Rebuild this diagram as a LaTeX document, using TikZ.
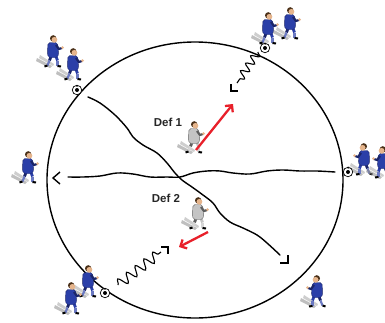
\documentclass[tikz,border=0pt]{standalone}
\usepackage{fontspec}
\setmainfont{Liberation Sans}
\usetikzlibrary{arrows.meta,decorations.pathmorphing,shapes.geometric}
\definecolor{kit}{HTML}{2B3FA8}
\definecolor{kitdark}{HTML}{1B2568}
\definecolor{skin}{HTML}{E6B58C}
\definecolor{hair}{HTML}{4A3018}
\definecolor{defc}{HTML}{C4C4C4}
\definecolor{defdark}{HTML}{5E5E5E}
\definecolor{arrowred}{HTML}{E8202A}
\tikzset{
  pics/runner/.style n args={3}{code={
    \fill[black!45, opacity=.55] (-1,16) -- (-16,8) -- (-17,11) -- (-3,18) -- cycle;
    \fill[black!35, opacity=.55] (1,14) -- (-13,5) -- (-14,8) -- (0,16) -- cycle;
    \begin{scope}[xscale=#3]
      \draw[line width=2.8pt, #2] (-1.5,5) -- (-3.5,10.5);
      \draw[line width=2.2pt, #1!70!white] (-3.5,10.5) -- (-5.5,15.5);
      \draw[line width=2pt, black] (-5.5,15.5) -- (-8.5,16.5);
      \draw[line width=2.8pt, #1] (2.5,5) -- (4.5,10.5);
      \draw[line width=2.2pt, #1!70!white] (4.5,10.5) -- (4.5,15.5);
      \draw[line width=2pt, black] (4.5,16) -- (8,16.5);
      \filldraw[fill=#1, draw=#2, line width=.4pt, rounded corners=2pt]
        (-5,-7.5) -- (4.5,-7.5) -- (5.5,2) -- (5,7.5) -- (-5,7.5) -- (-5.5,2) -- cycle;
      \draw[line width=2.2pt, #2] (3,-5) -- (6,-1) -- (9,-2);
      \fill[skin] (9.5,-2.3) circle[radius=1.5pt];
      \fill[hair] (0.2,-11.6) circle[radius=3.2pt];
      \fill[skin] (1.4,-10.2) circle[radius=2.9pt];
    \end{scope}
  }},
}
\begin{document}
\begin{tikzpicture}[x=1pt,y=-1pt,
  field/.style={line width=1.4pt},
  wave/.style={line width=1.4pt, line cap=round, line join=round},
  chev/.style={line width=1.4pt, line join=miter},
  drib/.style={line width=1.1pt, decorate, decoration={snake, amplitude=4pt, segment length=9pt, post length=1pt}},
  runarrow/.style={arrowred, line width=2.3pt, -{Straight Barb[length=5pt,width=10pt]}},
  lbl/.style={font=\bfseries\fontsize{11.5}{13}\selectfont, text=black!85, inner sep=0pt},
  ball/.style={circle, draw=black, fill=white, line width=.7pt, minimum size=9.5pt, inner sep=0pt,
    path picture={\fill[black] (path picture bounding box.center) circle[radius=2pt];
      \fill[black] (path picture bounding box.north) circle[radius=1.5pt];
      \fill[black] (path picture bounding box.south west) circle[radius=2pt];
      \fill[black] (path picture bounding box.south east) circle[radius=2pt];}}]

\useasboundingbox (0,0) rectangle (385,322);
\fill[white] (0,0) rectangle (385,322);

% field
\node[draw, field, ellipse, minimum width=296pt, minimum height=276pt, inner sep=0pt] (field) at (195,180) {};

% wavy diagonal line
\coordinate (dA) at (88,97);
\coordinate (dB) at (280,255);
\draw[wave] plot[smooth, tension=.6] coordinates {(dA) (100,103) (115,115) (127,128) (133,137) (143,145) (157,153) (167,163) (175,173) (182,180) (192,187) (203,195) (213,203) (220,213) (230,222) (243,228) (257,235) (267,243) (dB)};
\coordinate (tipSE) at (288,263);
\draw[chev] (tipSE) ++(-8,0) -- (tipSE) -- ++(0,-8);

% wavy horizontal line
\coordinate (hA) at (68,177);
\coordinate (hB) at (335,172);
\draw[wave] plot[smooth, tension=.6] coordinates {(hA) (83,177) (100,176) (117,173) (133,174) (150,177) (167,177) (180,177) (193,173) (207,171) (220,171) (233,173) (250,174) (267,171) (283,170) (300,171) (317,171) (hB)};
\coordinate (tipW) at (53,178);
\draw[chev] (tipW) ++(7,-6) -- (tipW) -- ++(7,6);

% dribbles
\coordinate (s1a) at (258,52);
\coordinate (s1b) at (237,83);
\draw[drib] (s1a) -- (s1b);
\coordinate (tipS1) at (231,91);
\draw[chev] (tipS1) ++(0,-7) -- (tipS1) -- ++(7,0);

\coordinate (s2a) at (118,285);
\coordinate (s2b) at (161,252);
\draw[drib, decoration={amplitude=5pt, segment length=11pt}] (s2a) -- (s2b);
\coordinate (tipS2) at (168,247);
\draw[chev] (tipS2) ++(-7,0) -- (tipS2) -- ++(0,7);

% attackers
\pic (tl1) at (53,50) {runner={kit}{kitdark}{1}};
\pic (tl2) at (73,63) {runner={kit}{kitdark}{1}};
\pic (tr1) at (268,27) {runner={kit}{kitdark}{1}};
\pic (tr2) at (290,22) {runner={kit}{kitdark}{1}};
\pic (lf) at (28,166) {runner={kit}{kitdark}{1}};
\pic (r1) at (364,158) {runner={kit}{kitdark}{-1}};
\pic (r2) at (383,161) {runner={kit}{kitdark}{-1}};
\pic (bl1) at (88,280) {runner={kit}{kitdark}{1}};
\pic (bl2) at (71,297) {runner={kit}{kitdark}{1}};
\pic (br) at (317,290) {runner={kit}{kitdark}{-1}};

% defenders
\pic (def1p) at (194,136) {runner={defc}{defdark}{1}};
\pic (def2p) at (198,212) {runner={defc}{defdark}{1}};
\node[lbl] (def1) at (168,122) {Def 1};
\node[lbl] (def2) at (166,198) {Def 2};

% defender runs
\coordinate (d1s) at (196,150);
\coordinate (d1e) at (233,104);
\draw[runarrow] (d1s) -- (d1e);
\coordinate (d2s) at (208,232);
\coordinate (d2e) at (179,247);
\draw[runarrow] (d2s) -- (d2e);

% balls
\node[ball] (b1) at (77,90) {};
\node[ball] (b2) at (265,48) {};
\node[ball] (b3) at (348,172) {};
\node[ball] (b4) at (105,293) {};
\end{tikzpicture}
\end{document}
